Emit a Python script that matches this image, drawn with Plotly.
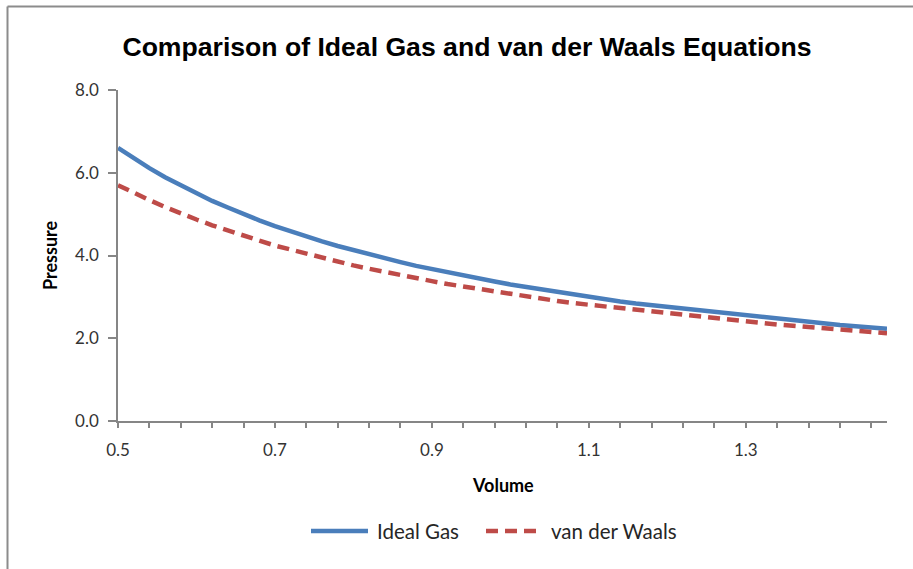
import plotly.graph_objects as go

volume = [0.50, 0.52, 0.54, 0.56, 0.58, 0.60, 0.62, 0.64, 0.66, 0.68,
          0.70, 0.72, 0.74, 0.76, 0.78, 0.80, 0.82, 0.84, 0.86, 0.88,
          0.90, 0.92, 0.94, 0.96, 0.98, 1.00, 1.02, 1.04, 1.06, 1.08,
          1.10, 1.12, 1.14, 1.16, 1.18, 1.20, 1.22, 1.24, 1.26, 1.28,
          1.30, 1.32, 1.34, 1.36, 1.38, 1.40, 1.42, 1.44, 1.46, 1.48]

ideal_gas = [6.60, 6.35, 6.11, 5.89, 5.69, 5.50, 5.32, 5.16, 5.00, 4.85,
             4.71, 4.58, 4.46, 4.34, 4.23, 4.13, 4.02, 3.93, 3.84, 3.75,
             3.67, 3.59, 3.51, 3.44, 3.37, 3.30, 3.24, 3.17, 3.11, 3.06,
             3.00, 2.95, 2.89, 2.84, 2.80, 2.75, 2.70, 2.66, 2.62, 2.58,
             2.54, 2.50, 2.46, 2.43, 2.39, 2.36, 2.32, 2.29, 2.26, 2.23]

van_der_waals = [5.70, 5.51, 5.34, 5.17, 5.01, 4.87, 4.73, 4.60, 4.47, 4.36,
                 4.24, 4.14, 4.04, 3.94, 3.85, 3.76, 3.68, 3.60, 3.52, 3.45,
                 3.38, 3.31, 3.25, 3.18, 3.12, 3.07, 3.01, 2.96, 2.90, 2.85,
                 2.81, 2.76, 2.71, 2.67, 2.63, 2.59, 2.55, 2.51, 2.47, 2.43,
                 2.40, 2.36, 2.33, 2.30, 2.27, 2.24, 2.21, 2.18, 2.15, 2.12]

series_names = ["Ideal Gas", "van der Waals"]
series_colors = ["#4A7EBB", "#BE4B48"]
series_dashes = ["solid", "12px,7px"]

y_ticks = [0, 2, 4, 6, 8]
x_ticks = [0.5, 0.7, 0.9, 1.1, 1.3]

title_text = "Comparison of Ideal Gas and van der Waals Equations"
x_title = "Volume"
y_title = "Pressure"

W, H = 913, 569
L, R, T, B = 118, 26, 90, 148
PW, PH = W - L - R, H - T - B


def px(x):
    return (x - L) / PW


def py(y):
    return (H - B - y) / PH


fig = go.Figure()
for name, ys, color, dash in zip(series_names, [ideal_gas, van_der_waals],
                                 series_colors, series_dashes):
    fig.add_trace(go.Scatter(x=volume, y=ys, mode="lines", name=name,
                             line=dict(color=color, width=4.5, dash=dash)))

tick_font = dict(family="Lato, Open Sans, sans-serif", size=17, color="#333333")
legend_font = dict(family="Lato, Open Sans, sans-serif", size=20.5, color="#262626")
axis_color = "#868686"

annotations = [
    dict(text=f"<b>{x_title}</b>", xref="paper", yref="paper", x=px(503), y=py(485),
         xanchor="center", yanchor="middle", showarrow=False,
         font=dict(family="Lato, Open Sans, sans-serif", size=18, color="black")),
    dict(text=f"<b>{y_title}</b>", xref="paper", yref="paper", x=px(50), y=py(256),
         xanchor="center", yanchor="middle", showarrow=False, textangle=-90,
         font=dict(family="Lato, Open Sans, sans-serif", size=18, color="black")),
]
shapes = [
    dict(type="line", xref="paper", yref="paper", x0=px(7.5), x1=px(W), y0=py(6.5), y1=py(6.5),
         line=dict(color="#8C8C8C", width=2)),
    dict(type="line", xref="paper", yref="paper", x0=px(7.5), x1=px(7.5), y0=py(H), y1=py(6.5),
         line=dict(color="#8C8C8C", width=2)),
]

# legend drawn by hand (Excel-style long sample lines, wide spacing)
legend_y = 531
legend_line_x = [(311, 368), (486, 541)]
legend_text_x = [375, 549]
for name, color, dash, (lx0, lx1), tx in zip(series_names, series_colors, series_dashes,
                                              legend_line_x, legend_text_x):
    shapes.append(dict(type="line", xref="paper", yref="paper",
                       x0=px(lx0), x1=px(lx1), y0=py(legend_y), y1=py(legend_y),
                       line=dict(color=color, width=4.5, dash=dash)))
    annotations.append(dict(text=name, xref="paper", yref="paper", x=px(tx), y=py(legend_y),
                            xanchor="left", yanchor="middle", showarrow=False,
                            font=legend_font))

fig.update_layout(
    width=W, height=H,
    paper_bgcolor="white", plot_bgcolor="white",
    margin=dict(l=L, r=R, t=T, b=B),
    title=dict(text=f"<b>{title_text}</b>", x=467 / W, xanchor="center",
               y=1 - 47 / H, yanchor="middle",
               font=dict(family="Liberation Sans, Arial, sans-serif", size=26.6, color="black")),
    showlegend=False,
    xaxis=dict(range=[0.5, 1.48], tickvals=x_ticks, ticktext=[f"{v:.1f}" for v in x_ticks],
               showgrid=False, zeroline=False, showline=True, linecolor=axis_color, linewidth=1.5,
               ticks="outside", ticklen=5, tickcolor=axis_color, tickwidth=1.5,
               ticklabelstandoff=8,
               minor=dict(dtick=0.04, tick0=0.5, ticks="outside", ticklen=5,
                          tickcolor=axis_color, tickwidth=1.5, showgrid=False),
               tickfont=tick_font),
    yaxis=dict(range=[0, 8], tickvals=y_ticks, ticktext=[f"{v:.1f}" for v in y_ticks],
               showgrid=False, zeroline=False, showline=True, linecolor=axis_color, linewidth=1.5,
               ticks="outside", ticklen=8, tickcolor=axis_color, tickwidth=1.5,
               ticklabelstandoff=6,
               tickfont=tick_font),
    annotations=annotations,
    shapes=shapes,
)

fig.write_html("out.html", config={"displayModeBar": False},
               post_script="document.body.style.margin='0px';")
